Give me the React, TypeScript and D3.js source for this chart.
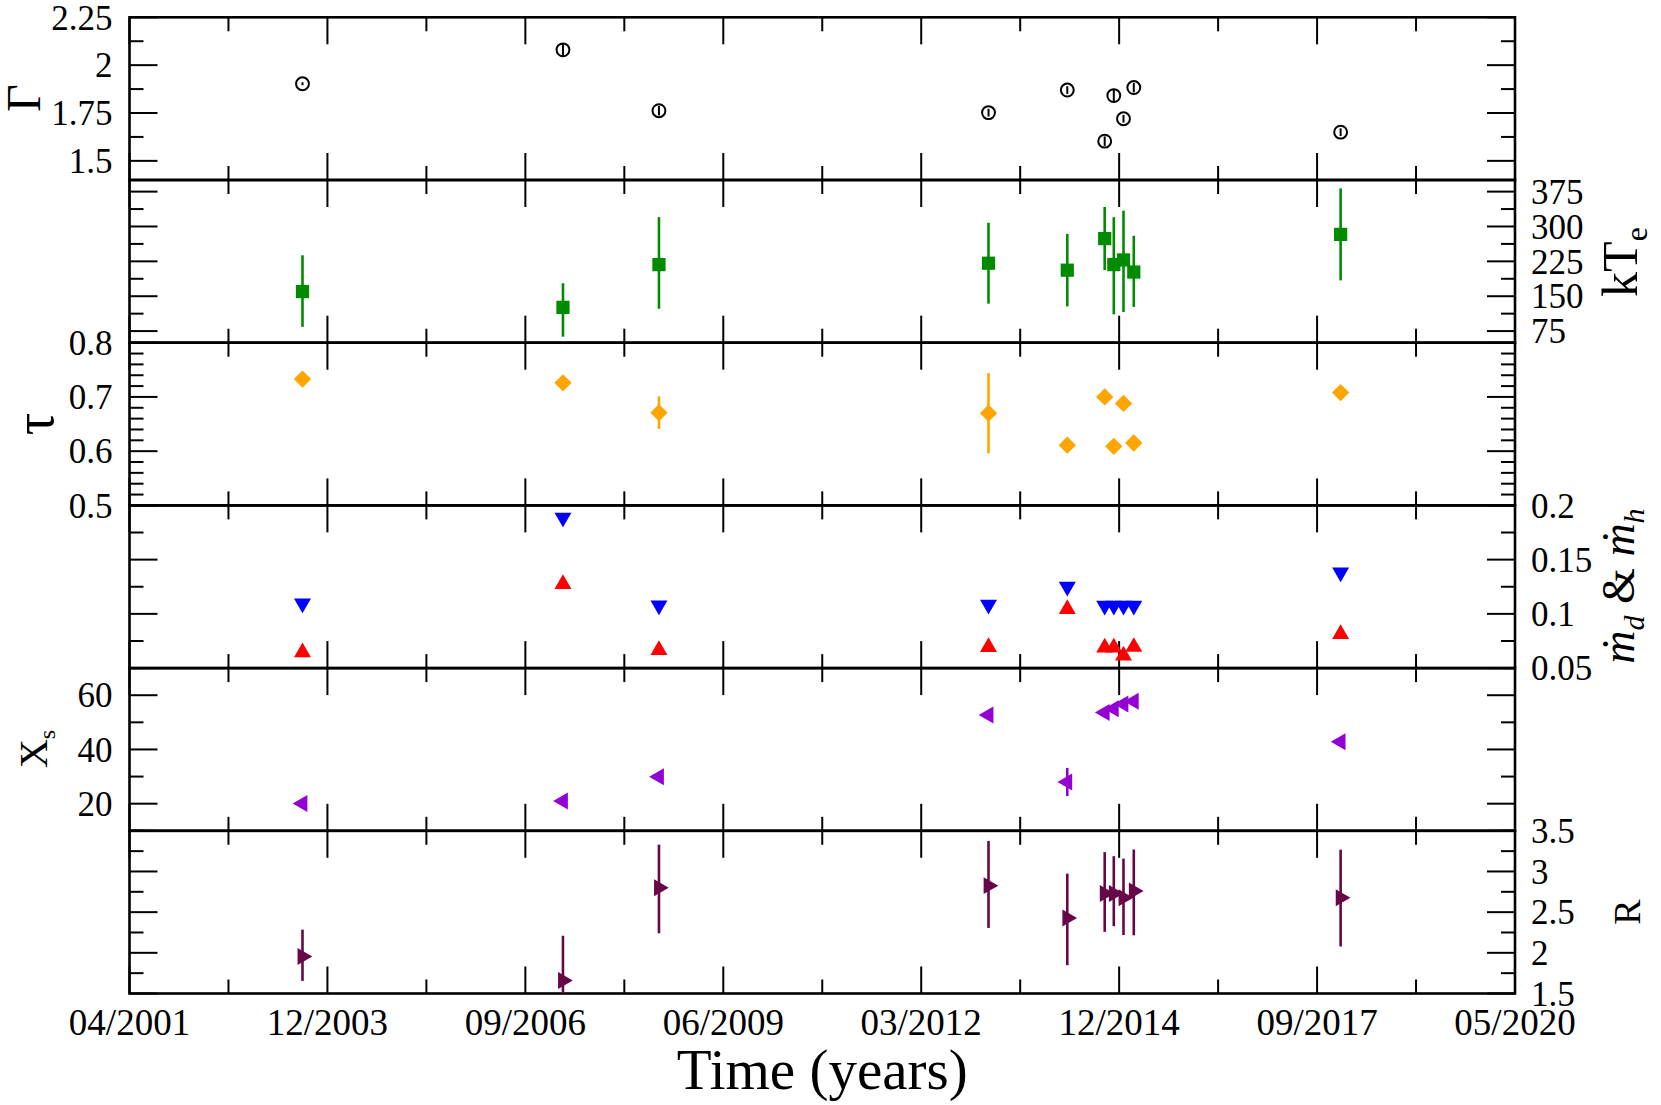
import { useRef, useEffect } from "react";
import * as d3 from "d3";

// observation epochs, MJD
const mjd = [52874, 54190, 54675, 56340, 56738, 56927, 56973, 57022, 57074, 58119];

const timeTicks = [52000, 53000, 54000, 55000, 56000, 57000, 58000, 59000];
const timeLabels = ["04/2001", "12/2003", "09/2006", "06/2009", "03/2012", "12/2014", "09/2017", "05/2020"];

const gamma = [1.903, 2.08, 1.762, 1.752, 1.87, 1.603, 1.841, 1.72, 1.883, 1.65];
const gammaErr = [0.008, 0.03, 0.025, 0.02, 0.02, 0.025, 0.03, 0.02, 0.025, 0.02];

const kTe = [160, 126, 218, 221, 206, 274, 218, 228, 202, 283];
const kTeMinus = [76, 63, 95, 87, 78, 68, 107, 112, 75, 99];
const kTePlus = [78, 52, 102, 87, 78, 68, 102, 106, 78, 99];

const tau = [0.733, 0.726, 0.671, 0.67, 0.611, 0.7, 0.609, 0.688, 0.615, 0.708];
const tauErr = [0.004, 0.004, 0.03, 0.074, 0.004, 0.004, 0.004, 0.004, 0.004, 0.004];

const mdotH = [0.1097, 0.1888, 0.1077, 0.1084, 0.125, 0.1075, 0.1075, 0.1075, 0.1075, 0.1382];
const mdotD = [0.0646, 0.1275, 0.0666, 0.0693, 0.1045, 0.069, 0.069, 0.0615, 0.0695, 0.0813];

const xs = [20.1, 21.0, 29.9, 52.7, 28.0, 53.6, 55.0, 56.8, 57.8, 42.8];
const xsErr = [0.4, 0.4, 0.4, 1.2, 5.2, 0.4, 0.4, 0.4, 0.4, 0.4];

const rRatio = [1.955, 1.66, 2.8, 2.826, 2.428, 2.728, 2.728, 2.678, 2.76, 2.678];
const rPlus = [0.33, 0.55, 0.53, 0.55, 0.545, 0.51, 0.46, 0.48, 0.51, 0.59];
const rMinus = [0.3, 0.6, 0.56, 0.52, 0.58, 0.47, 0.4, 0.46, 0.545, 0.6];

const gammaTicks = [1.5, 1.75, 2, 2.25];
const kTeTicks = [75, 150, 225, 300, 375];
const tauTicks = [0.5, 0.6, 0.7, 0.8];
const mdotTicks = [0.05, 0.1, 0.15, 0.2];
const xsTicks = [20, 40, 60];
const rTicks = [1.5, 2, 2.5, 3, 3.5];

const FONT = "'Liberation Serif', 'Times New Roman', serif";
const W = 1661;
const H = 1105;
const X0 = 129.5;
const X1 = 1515;
const Y0 = 17.3;
const Y1 = 993.5;

const panels = [
  { domain: [1.4, 2.25], ticks: gammaTicks, minor: 0.125, side: "left" },
  { domain: [50, 400], ticks: kTeTicks, minor: 37.5, side: "right" },
  { domain: [0.5, 0.8], ticks: tauTicks, minor: 0.02, side: "left" },
  { domain: [0.05, 0.2], ticks: mdotTicks, minor: 0.025, side: "right" },
  { domain: [10, 70], ticks: xsTicks, minor: 10, side: "left" },
  { domain: [1.5, 3.5], ticks: rTicks, minor: 0.25, side: "right" },
];

const series = [
  { panel: 0, values: gamma, minus: gammaErr, plus: gammaErr, color: "#000", shape: "circle" },
  { panel: 1, values: kTe, minus: kTeMinus, plus: kTePlus, color: "#008b00", shape: "square" },
  { panel: 2, values: tau, minus: tauErr, plus: tauErr, color: "#ffa500", shape: "diamond" },
  { panel: 3, values: mdotH, minus: null, plus: null, color: "#0000ff", shape: "down" },
  { panel: 3, values: mdotD, minus: null, plus: null, color: "#ff0000", shape: "up" },
  { panel: 4, values: xs, minus: xsErr, plus: xsErr, color: "#9400d3", shape: "left" },
  { panel: 5, values: rRatio, minus: rMinus, plus: rPlus, color: "#670748", shape: "right" },
];

const fmt = d3.format("~g");

export default function App() {
  const svgRef = useRef<SVGSVGElement>(null);

  useEffect(() => {
    document.body.style.margin = "0";
    if (!svgRef.current) return;
    const svg = d3.select(svgRef.current);
    svg.selectAll("*").remove();

    const x = d3.scaleLinear().domain([52000, 59000]).range([X0, X1]);
    const ph = (Y1 - Y0) / panels.length;
    const yScales = panels.map((p, i) =>
      d3.scaleLinear().domain(p.domain).range([Y0 + (i + 1) * ph, Y0 + i * ph])
    );

    const axes = svg.append("g").attr("stroke", "#000").attr("stroke-width", 2);

    panels.forEach((p, i) => {
      const y = yScales[i];
      const top = Y0 + i * ph;
      const bottom = top + ph;

      // minor + major y ticks on both sides
      const base = p.ticks[0];
      const kLo = Math.ceil((p.domain[0] - base) / p.minor - 1e-6);
      const kHi = Math.floor((p.domain[1] - base) / p.minor + 1e-6);
      const minors = d3
        .range(kLo, kHi + 1)
        .map((k) => base + k * p.minor)
        .filter((v) => !p.ticks.some((t) => Math.abs(t - v) < 1e-6));

      const yTick = (vals: number[], len: number) => {
        vals.forEach((v) => {
          const yy = y(v);
          axes.append("line").attr("x1", X0).attr("x2", X0 + len).attr("y1", yy).attr("y2", yy);
          axes.append("line").attr("x1", X1 - len).attr("x2", X1).attr("y1", yy).attr("y2", yy);
        });
      };
      yTick(minors, 14);
      yTick(p.ticks, 28);

      // x ticks at top and bottom of each panel
      const xMinor = d3.range(52500, 59000, 1000);
      [top, bottom].forEach((edge, j) => {
        const dir = j === 0 ? 1 : -1;
        xMinor.forEach((t) => {
          axes.append("line").attr("x1", x(t)).attr("x2", x(t)).attr("y1", edge).attr("y2", edge + dir * 14);
        });
        timeTicks.forEach((t) => {
          axes.append("line").attr("x1", x(t)).attr("x2", x(t)).attr("y1", edge).attr("y2", edge + dir * 27);
        });
      });

      // y tick labels
      svg
        .append("g")
        .selectAll("text")
        .data(p.ticks)
        .join("text")
        .attr("x", p.side === "left" ? X0 - 17 : X1 + 16)
        .attr("y", (d) => y(d))
        .attr("dy", "0.35em")
        .attr("text-anchor", p.side === "left" ? "end" : "start")
        .attr("font-family", FONT)
        .attr("font-size", 35)
        .text((d) => fmt(d));
    });

    // frames
    panels.forEach((_, i) => {
      axes
        .append("rect")
        .attr("x", X0)
        .attr("y", Y0 + i * ph)
        .attr("width", X1 - X0)
        .attr("height", ph)
        .attr("fill", "none")
        .attr("stroke-width", 2.6);
    });

    // x tick labels
    svg
      .append("g")
      .selectAll("text")
      .data(timeTicks)
      .join("text")
      .attr("x", (d) => x(d))
      .attr("y", 1035)
      .attr("text-anchor", "middle")
      .attr("font-family", FONT)
      .attr("font-size", 37)
      .text((_, i) => timeLabels[i]);

    svg
      .append("text")
      .attr("x", (X0 + X1) / 2)
      .attr("y", 1089)
      .attr("text-anchor", "middle")
      .attr("font-family", FONT)
      .attr("font-size", 57)
      .text("Time (years)");

    // data
    const marks = svg.append("g");
    series.forEach((s) => {
      const y = yScales[s.panel];
      const yc = y.copy().clamp(true);
      const g = marks.append("g");
      if (s.minus && s.plus) {
        g.selectAll("line")
          .data(s.values)
          .join("line")
          .attr("x1", (_, i) => x(mjd[i]))
          .attr("x2", (_, i) => x(mjd[i]))
          .attr("y1", (d, i) => yc(d - s.minus![i]))
          .attr("y2", (d, i) => yc(d + s.plus![i]))
          .attr("stroke", s.color)
          .attr("stroke-width", s.shape === "circle" ? 2 : 2.6);
      }
      let type: d3.SymbolType = d3.symbolTriangle;
      let size = 125;
      let rot = 0;
      if (s.shape === "circle") { type = d3.symbolCircle; size = 130; }
      if (s.shape === "square") { type = d3.symbolSquare; size = 175; }
      if (s.shape === "diamond") { type = d3.symbolSquare; size = 150; rot = 45; }
      if (s.shape === "down") rot = 180;
      if (s.shape === "left") rot = -90;
      if (s.shape === "right") rot = 90;
      const path = d3.symbol().type(type).size(size)();
      g.selectAll("path")
        .data(s.values)
        .join("path")
        .attr("d", path)
        .attr("transform", (d, i) => `translate(${x(mjd[i])},${y(d)}) rotate(${rot})`)
        .attr("fill", s.shape === "circle" ? "none" : s.color)
        .attr("stroke", s.shape === "circle" ? s.color : "none")
        .attr("stroke-width", 2);
    });

    // axis titles, rotated
    const title = (tx: number, ty: number) =>
      svg
        .append("text")
        .attr("transform", `translate(${tx},${ty}) rotate(-90)`)
        .attr("text-anchor", "middle")
        .attr("font-family", FONT);

    title(40, 98).attr("font-size", 48).text("Γ");
    title(53, 424).attr("font-size", 56).text("τ");

    const xsT = title(47, 749);
    xsT.append("tspan").attr("font-size", 40).text("X");
    xsT.append("tspan").attr("font-size", 24).attr("dy", 8).text("s");

    const kT = title(1637, 262);
    kT.append("tspan").attr("font-size", 50).text("kT");
    kT.append("tspan").attr("font-size", 32).attr("dy", 10).text("e");

    const md = title(1634, 586).attr("font-size", 46);
    md.append("tspan").attr("font-style", "italic").text("ṁ");
    md.append("tspan").attr("font-style", "italic").attr("font-size", 30).attr("dy", 10).text("d");
    md.append("tspan").attr("dy", -10).text(" & ");
    md.append("tspan").attr("font-style", "italic").text("ṁ");
    md.append("tspan").attr("font-style", "italic").attr("font-size", 30).attr("dy", 10).text("h");

    title(1640, 912).attr("font-size", 38).text("R");
  }, []);

  return <svg ref={svgRef} width={W} height={H} viewBox={`0 0 ${W} ${H}`} style={{ display: "block", background: "#fff" }} />;
}
